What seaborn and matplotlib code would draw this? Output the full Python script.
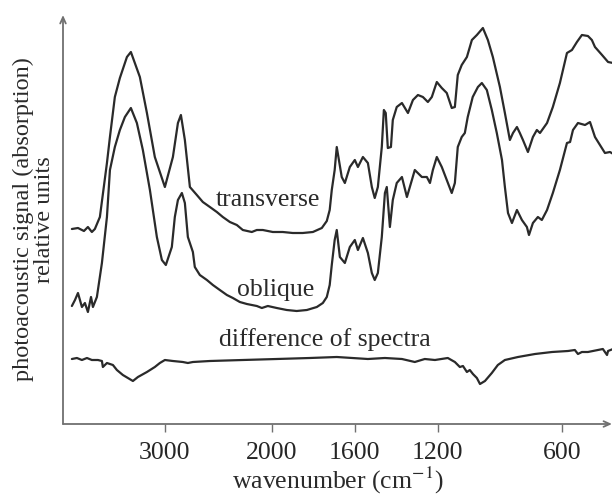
import numpy as np
import pandas as pd
import matplotlib
matplotlib.use("Agg")
import matplotlib.pyplot as plt
import seaborn as sns

# ---- data ----
trans_w = [3870, 3813, 3757, 3720, 3683, 3655, 3608, 3542, 3514, 3468, 3421, 3355, 3318, 3234, 3168, 3094,
           3000, 2925, 2878, 2850, 2813, 2766, 2701, 2645, 2579, 2514, 2458, 2392, 2327, 2271, 2187, 2140,
           2084, 1995, 1947, 1899, 1851, 1802, 1759, 1735, 1721, 1711, 1697, 1687, 1663, 1648, 1624, 1600,
           1585, 1561, 1537, 1518, 1504, 1489, 1470, 1460, 1451, 1441, 1426, 1417, 1398, 1373, 1344, 1320,
           1296, 1272, 1248, 1229, 1205, 1181, 1157, 1133, 1118, 1104, 1085, 1060, 1036, 1012, 983, 959,
           935, 901, 877, 853, 838, 819, 805, 790, 766, 742, 723, 708, 674, 646, 612, 578,
           554, 530, 506, 477, 458, 443, 409, 380, 356]
trans_v = [195, 196, 193, 197, 192, 195, 207, 261, 287, 327, 346, 367, 372, 347, 311, 267,
           237, 267, 301, 309, 284, 237, 229, 222, 217, 212, 207, 202, 199, 194, 192, 194,
           194, 192, 192, 191, 191, 192, 196, 203, 214, 234, 254, 277, 247, 241, 257, 264,
           257, 267, 261, 237, 226, 237, 277, 314, 311, 276, 277, 304, 317, 321, 311, 324,
           329, 327, 322, 327, 342, 336, 331, 316, 317, 349, 359, 367, 384, 389, 396, 384,
           367, 337, 311, 284, 291, 297, 291, 284, 272, 287, 294, 291, 301, 317, 341, 371,
           374, 382, 389, 388, 384, 377, 369, 362, 361]

obl_w = [3870, 3841, 3813, 3776, 3748, 3720, 3691, 3673, 3636, 3589, 3542, 3514, 3468, 3421, 3374, 3318,
         3262, 3206, 3140, 3075, 3028, 2991, 2935, 2907, 2878, 2841, 2813, 2785, 2738, 2720, 2673, 2607,
         2551, 2486, 2420, 2364, 2299, 2233, 2140, 2093, 2037, 1976, 1928, 1880, 1831, 1783, 1754, 1735,
         1721, 1711, 1697, 1687, 1672, 1648, 1624, 1600,
         1585, 1561, 1537, 1518, 1504, 1489, 1470, 1455, 1446, 1431, 1417, 1398, 1373, 1349, 1325, 1311,
         1277, 1253, 1238, 1224, 1205, 1181, 1157, 1133, 1118, 1104, 1085, 1070, 1056, 1032, 1007, 988,
         964, 940, 916, 891, 877, 862, 843, 819, 795, 771, 761, 742, 718, 699, 674, 646,
         612, 578, 563, 549, 525, 491, 467, 443, 419, 395, 371, 346]
obl_v = [118, 124, 131, 117, 121, 112, 127, 117, 127, 161, 207, 254, 277, 294, 307, 316,
         301, 274, 234, 187, 164, 159, 177, 207, 224, 231, 221, 187, 172, 157, 149, 144,
         139, 134, 129, 126, 122, 120, 118, 116, 118, 116, 114, 113, 114, 117, 121, 127,
         139, 159, 184, 194, 167, 161, 177, 184,
         174, 186, 171, 151, 144, 151, 187, 231, 237, 197, 224, 241, 247, 227, 244, 254,
         247, 247, 241, 254, 267, 257, 244, 231, 241, 277, 287, 291, 307, 327, 337, 341,
         334, 314, 291, 264, 237, 211, 201, 214, 204, 197, 189, 201, 207, 204, 214, 231,
         254, 281, 282, 294, 301, 299, 302, 287, 279, 271, 272, 269]

diff_w = [3870, 3823, 3776, 3729, 3683, 3626, 3589, 3580, 3542, 3514, 3486, 3449, 3393, 3346, 3299, 3252,
          3168, 3094, 3047, 3000, 2925, 2832, 2785, 2738, 2579, 2271, 1976, 1817, 1687, 1537, 1455, 1373,
          1311, 1263, 1214, 1152, 1118, 1094, 1079, 1060, 1046, 1031, 1012, 997, 973, 940, 911, 877,
          814, 732, 650, 573, 540, 525, 506, 477, 429, 405, 385, 380, 356]
diff_v = [65, 66, 64, 66, 64, 64, 63, 57, 61, 60, 59, 54, 49, 46, 43, 47,
          52, 57, 61, 64, 63, 62, 61, 62, 63, 64, 65, 66, 67, 65, 66, 65,
          62, 65, 64, 66, 62, 57, 58, 52, 54, 50, 46, 40, 43, 51, 59, 64,
          67, 70, 72, 73, 74, 70, 72, 72, 74, 75, 69, 73, 75]

tick_values = [3000, 2000, 1600, 1200, 600]
tick_labels = ["3000", "2000", "1600", "1200", "600"]
curve_labels = ["transverse", "oblique", "difference of spectra"]

# ---- style ----
sns.set_style("white")
plt.rcParams["font.family"] = ["Liberation Serif", "DejaVu Serif"]
plt.rcParams["mathtext.fontset"] = "stix"

LINE = "#2a2a2a"
AXC = "#707070"

fig = plt.figure(figsize=(6.15, 4.99), dpi=100)
ax = fig.add_axes([63 / 615, 75 / 499, 549 / 615, 409 / 499])

for w, v in [(trans_w, trans_v), (obl_w, obl_v), (diff_w, diff_v)]:
    df = pd.DataFrame({"w": w, "v": v})
    sns.lineplot(data=df, x="w", y="v", ax=ax, color=LINE, lw=1.6,
                 estimator=None, sort=False)

K = 0.515
def fwd(w):
    w = np.asarray(w, dtype=float)
    return np.where(w >= 2000, 2000 + (w - 2000) * K, w)

def inv(p):
    p = np.asarray(p, dtype=float)
    return np.where(p >= 2000, 2000 + (p - 2000) / K, p)

ax.set_xscale("function", functions=(fwd, inv))
ax.set_xlim(3953, 361)
ax.set_ylim(0, 409)

ax.set_xticks(tick_values)
ax.set_xticklabels(tick_labels)
ax.set_yticks([])
ax.tick_params(axis="x", direction="out", length=6, width=1, color=AXC,
               labelsize=18.5, pad=7, bottom=True)
for s in ax.spines.values():
    s.set_visible(False)

# axes drawn as arrows with open caret heads
arrow = dict(arrowstyle="->,head_length=0.45,head_width=0.2", color=AXC, lw=1.3,
             shrinkA=0, shrinkB=0)
ax.annotate("", xy=(0, 1.0), xytext=(0, 0), xycoords="axes fraction",
            arrowprops=arrow, annotation_clip=False)
ax.annotate("", xy=(1.0, 0), xytext=(0, 0), xycoords="axes fraction",
            arrowprops=arrow, annotation_clip=False)

# curve labels
ax.text(2037, 224, curve_labels[0], fontsize=18.5, ha="center", va="center", color=LINE)
ax.text(1981, 134, curve_labels[1], fontsize=18.5, ha="center", va="center", color=LINE)
ax.text(1745, 84, curve_labels[2], fontsize=18.5, ha="center", va="center", color=LINE)

ax.set_xlabel("wavenumber (cm$^{-1}$)", fontsize=18.5, color=LINE, labelpad=1)
ax.set_ylabel("photoacoustic signal (absorption)\nrelative units", fontsize=17.5,
              color=LINE, linespacing=1.0, labelpad=6)

fig.savefig("out.png", dpi=100, facecolor="white")
